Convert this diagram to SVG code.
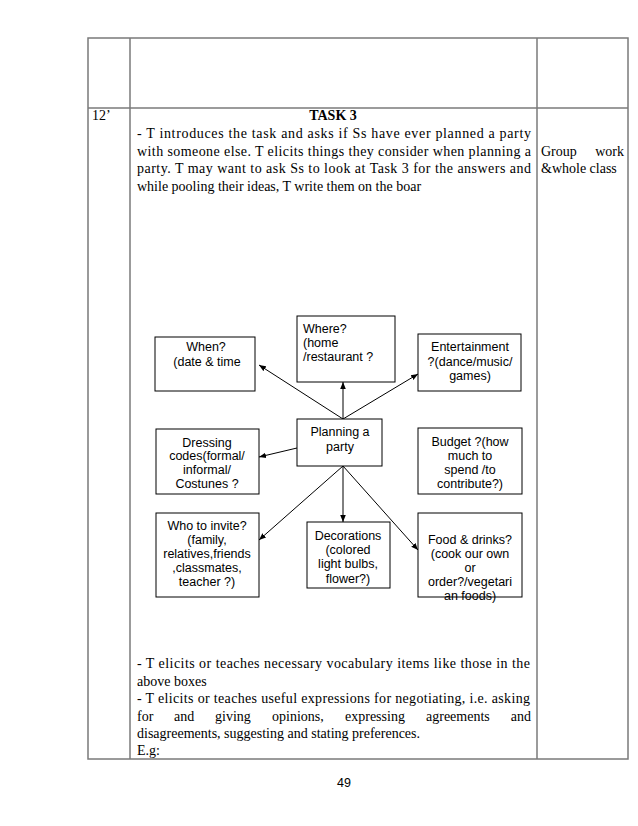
<svg xmlns="http://www.w3.org/2000/svg" width="638" height="826" viewBox="0 0 638 826">
<style>
.tb{stroke:#7a7a7a;stroke-width:1.5;fill:none}
.bx{fill:#fff;stroke:#000;stroke-width:1}
.ser{font-family:"Liberation Serif","Times New Roman",serif;font-size:14px;fill:#000}
.san{font-family:"Liberation Sans",Arial,sans-serif;font-size:12.5px;fill:#000}
.c{text-anchor:middle}
.cn{stroke:#000;stroke-width:1;fill:none;marker-end:url(#ah)}
</style>
<defs>
<marker id="ah" viewBox="0 0 10 10" refX="10" refY="5" markerWidth="7" markerHeight="7" markerUnits="userSpaceOnUse" orient="auto">
<path d="M0,1 L10,5 L0,9 z" fill="#000"/>
</marker>
</defs>
<rect width="638" height="826" fill="#fff"/>
<g id="table">
<rect class="tb" x="88" y="38" width="540" height="721"/>
<line class="tb" x1="130" y1="38" x2="130" y2="759"/>
<line class="tb" x1="537" y1="38" x2="537" y2="759"/>
<line class="tb" x1="88" y1="108" x2="628" y2="108"/>
</g>
<g id="texts">
<text class="ser" x="92" y="120">12’</text>
<text class="ser c" x="333" y="120" font-weight="bold">TASK 3</text>
<text class="ser" x="137" y="138" textLength="394" lengthAdjust="spacing">- T introduces the task and asks if Ss have ever planned a party</text>
<text class="ser" x="137" y="155.5" textLength="394" lengthAdjust="spacing">with someone else. T elicits things they consider when planning a</text>
<text class="ser" x="137" y="173" textLength="394" lengthAdjust="spacing">party. T may want to ask Ss to look at Task 3 for the answers and</text>
<text class="ser" x="137" y="190.5">while pooling their ideas, T write them on the boar</text>
<text class="ser" x="541" y="155.5">Group</text>
<text class="ser" x="624" y="155.5" text-anchor="end">work</text>
<text class="ser" x="541" y="173">&amp;whole class</text>
<text class="ser" x="137" y="668" textLength="393" lengthAdjust="spacing">- T elicits or teaches necessary vocabulary items like those in the</text>
<text class="ser" x="137" y="685.5">above boxes</text>
<text class="ser" x="137" y="703" textLength="393" lengthAdjust="spacing">- T elicits or teaches useful expressions for negotiating, i.e. asking</text>
<text class="ser" y="720.5"><tspan x="137">for</tspan><tspan x="174">and</tspan><tspan x="215">giving</tspan><tspan x="272">opinions,</tspan><tspan x="345">expressing</tspan><tspan x="426">agreements</tspan></text>
<text class="ser" x="531" y="720.5" text-anchor="end">and</text>
<text class="ser" x="137" y="738">disagreements, suggesting and stating preferences.</text>
<text class="ser" x="137" y="755">E.g:</text>
<text class="san c" x="344" y="787" font-size="13">49</text>
</g>
<g id="connectors">
<line class="cn" x1="343" y1="419" x2="259" y2="365"/>
<line class="cn" x1="343" y1="419" x2="343" y2="382"/>
<line class="cn" x1="343" y1="419" x2="418" y2="374"/>
<line class="cn" x1="297" y1="448" x2="259" y2="457"/>
<line class="cn" x1="343" y1="466" x2="259" y2="540"/>
<line class="cn" x1="343" y1="466" x2="343" y2="522"/>
<line class="cn" x1="343" y1="466" x2="418" y2="550"/>
</g>
<g id="when">
<rect class="bx" x="155" y="337" width="100" height="54"/>
<text class="san c" x="206" y="351">When?</text>
<text class="san c" x="207" y="366">(date &amp; time</text>
</g>
<g id="where">
<rect class="bx" x="297" y="316" width="98" height="66"/>
<text class="san" x="303" y="333">Where?</text>
<text class="san" x="303" y="347">(home</text>
<text class="san" x="303" y="361">/restaurant ?</text>
</g>
<g id="entertainment">
<rect class="bx" x="418" y="334" width="103" height="57"/>
<text class="san c" x="470" y="351">Entertainment</text>
<text class="san c" x="470" y="365.5">?(dance/music/</text>
<text class="san c" x="470" y="380">games)</text>
</g>
<g id="planning">
<rect class="bx" x="297" y="419" width="85" height="47"/>
<text class="san c" x="340" y="436">Planning a</text>
<text class="san c" x="340" y="451">party</text>
</g>
<g id="dressing">
<rect class="bx" x="156" y="429" width="103" height="65"/>
<text class="san c" x="207" y="446.5">Dressing</text>
<text class="san c" x="207" y="460">codes(formal/</text>
<text class="san c" x="207" y="473.5">informal/</text>
<text class="san c" x="207" y="487.5">Costunes ?</text>
</g>
<g id="budget">
<rect class="bx" x="418" y="428" width="104" height="66"/>
<text class="san c" x="470" y="446">Budget ?(how</text>
<text class="san c" x="470" y="460">much to</text>
<text class="san c" x="470" y="474">spend /to</text>
<text class="san c" x="470" y="488">contribute?)</text>
</g>
<g id="who">
<rect class="bx" x="156" y="513" width="103" height="84"/>
<text class="san c" x="207" y="529.5">Who to invite?</text>
<text class="san c" x="207" y="543.5">(family,</text>
<text class="san c" x="207" y="557.5">relatives,friends</text>
<text class="san c" x="207" y="571.5">,classmates,</text>
<text class="san c" x="207" y="585.5">teacher ?)</text>
</g>
<g id="decorations">
<rect class="bx" x="307" y="522" width="83" height="66"/>
<text class="san c" x="348" y="539.5">Decorations</text>
<text class="san c" x="348" y="554">(colored</text>
<text class="san c" x="348" y="568">light bulbs,</text>
<text class="san c" x="348" y="582.5">flower?)</text>
</g>
<g id="food">
<rect class="bx" x="418" y="513" width="104" height="84"/>
<text class="san c" x="470" y="544">Food &amp; drinks?</text>
<text class="san c" x="470" y="558">(cook our own</text>
<text class="san c" x="470" y="572">or</text>
<text class="san c" x="470" y="586">order?/vegetari</text>
<text class="san c" x="470" y="600">an foods)</text>
</g>
</svg>
